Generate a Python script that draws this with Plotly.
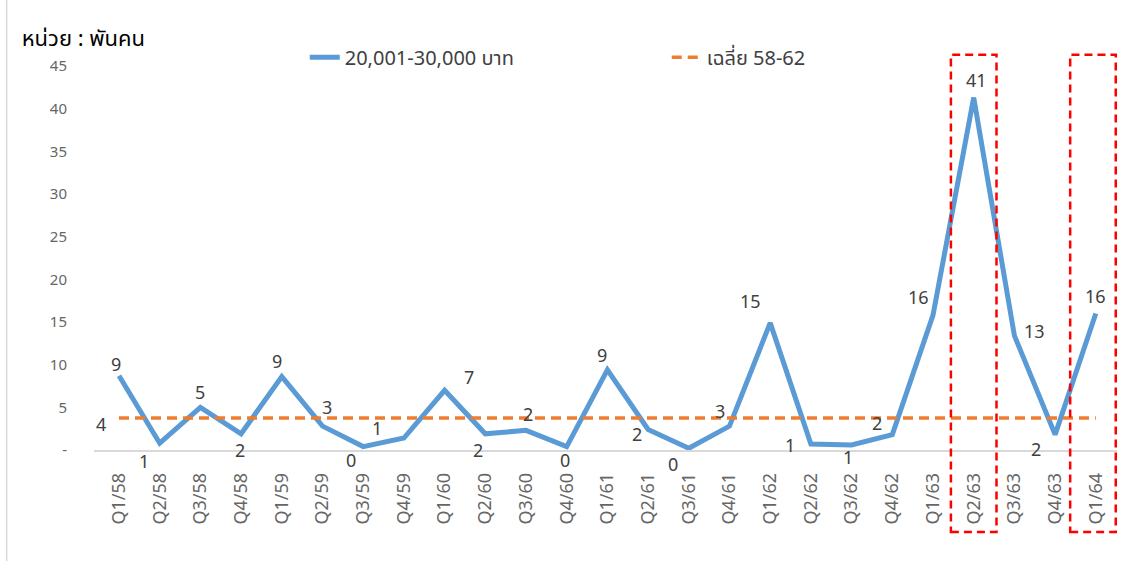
import plotly.graph_objects as go

quarters = ["Q1/58","Q2/58","Q3/58","Q4/58","Q1/59","Q2/59","Q3/59","Q4/59",
            "Q1/60","Q2/60","Q3/60","Q4/60","Q1/61","Q2/61","Q3/61","Q4/61",
            "Q1/62","Q2/62","Q3/62","Q4/62","Q1/63","Q2/63","Q3/63","Q4/63","Q1/64"]
values = [8.7, 0.8, 5.0, 1.9, 8.6, 2.8, 0.4, 1.4,
          7.0, 1.9, 2.3, 0.4, 9.4, 2.4, 0.2, 2.8,
          14.9, 0.7, 0.6, 1.8, 15.8, 41.3, 13.4, 1.8, 16.0]
avg_value = 3.75
series_name = "20,001-30,000 บาท"
avg_name = "เฉลี่ย 58-62"
y_tickvals = [0, 5, 10, 15, 20, 25, 30, 35, 40, 45]
y_ticktext = ["-", "5", "10", "15", "20", "25", "30", "35", "40", "45"]
highlight = ["Q2/63", "Q1/64"]

# label pixel offsets (style)
label_dx = [-3,-16,0,-1,-5,4,-12,-27,24,-7,2,-2,-5,-11,-16,-10,-20,-21,-4,-15,-15,3,20,-19,0]
label_dy = [10,-19,14,-18,14,18,-15,9,12,-18,15,-15,13,-6,-17,14,20,-2,-14,10,17,16,3,-16,16]

FONT = "Tahoma, 'Noto Sans Thai', 'Noto Sans', 'DejaVu Sans', sans-serif"
LBL = "#404040"

fig = go.Figure()
fig.add_trace(go.Scatter(x=quarters, y=values, mode="lines", name=series_name,
                         line=dict(color="#5b9bd5", width=5), cliponaxis=False))
fig.add_trace(go.Scatter(x=quarters, y=[avg_value]*len(quarters), mode="lines", name=avg_name,
                         line=dict(color="#ed7d31", width=3.5, dash="10px,6px"), cliponaxis=False))

anns = []
for q, v, dx, dy in zip(quarters, values, label_dx, label_dy):
    anns.append(dict(x=q, y=v, text=f"{round(v):d}", showarrow=False, xshift=dx, yshift=dy,
                     font=dict(family=FONT, size=18, color=LBL)))
anns.append(dict(x=quarters[0], y=avg_value, text=f"{round(avg_value):d}", showarrow=False,
                 xshift=-18, yshift=-7, font=dict(family=FONT, size=18, color=LBL)))

shapes = []
for q in highlight:
    i = quarters.index(q)
    x0, x1 = (i - 0.56, i + 0.56) if i < len(quarters) - 1 else (i - 0.63, i + 0.49)
    shapes.append(dict(type="rect", xref="x", yref="paper", x0=x0, x1=x1, y0=-0.2135, y1=1.029,
                       line=dict(color="#ff0000", width=2.5, dash="8px,5px"), layer="above"))
shapes.append(dict(type="line", xref="paper", yref="paper", x0=-0.0854, x1=-0.0854, y0=-0.5, y1=1.3,
                   line=dict(color="#d9d9d9", width=1.5)))

fig.update_layout(
    width=1140, height=561,
    margin=dict(l=93.5, r=22.5, t=66, b=111),
    paper_bgcolor="white", plot_bgcolor="white",
    title=dict(text="หน่วย : พันคน", x=0.019, xanchor="left", y=0.932, yanchor="middle",
               font=dict(family=FONT, size=22, color="black", weight="normal")),
    legend=dict(orientation="h", x=0.206, xanchor="left", y=1.023, yanchor="middle",
                font=dict(family=FONT, size=20, color=LBL), entrywidth=317, entrywidthmode="pixels",
                bgcolor="rgba(0,0,0,0)"),
    xaxis=dict(type="category", showgrid=False, showline=True, linecolor="#d9d9d9", linewidth=1.5,
               tickangle=-90, tickfont=dict(family=FONT, size=18, color="#666666"),
               ticks="", zeroline=False, ticklabelstandoff=14),
    yaxis=dict(range=[0, 45], tickvals=y_tickvals, ticktext=y_ticktext, showgrid=False,
               showline=False, zeroline=False, ticks="", ticklabelstandoff=26,
               tickfont=dict(family=FONT, size=15, color="#666666")),
    annotations=anns, shapes=shapes, showlegend=True,
)
fig.write_html("out.html", config={"displayModeBar": False},
               post_script="document.body.style.margin='0';document.body.style.overflow='hidden';")
